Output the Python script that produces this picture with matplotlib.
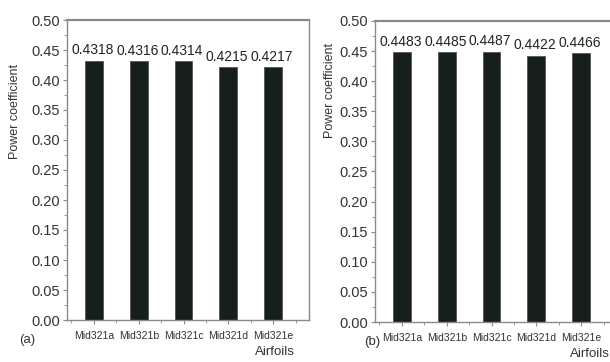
import matplotlib
matplotlib.use("Agg")
import matplotlib.pyplot as plt
from matplotlib.ticker import MultipleLocator, FormatStrFormatter

plt.rcParams['font.family'] = ['Liberation Sans', 'DejaVu Sans']

airfoils = ["Mid321a", "Mid321b", "Mid321c", "Mid321d", "Mid321e"]
cp_a = [0.4318, 0.4316, 0.4314, 0.4215, 0.4217]
cp_b = [0.4483, 0.4485, 0.4487, 0.4422, 0.4466]
value_labels_a = ["0.4318", "0.4316", "0.4314", "0.4215", "0.4217"]
value_labels_b = ["0.4483", "0.4485", "0.4487", "0.4422", "0.4466"]

W, H = 610, 362
fig = plt.figure(figsize=(W / 100, H / 100), dpi=100)
fig.patch.set_facecolor("white")

bar_color = "#161e1e"
spine_color = "#8a8a8a"
text_color = "#222222"


def px_box(x0, y_top, x1, y_bot):
    return [x0 / W, 1 - y_bot / H, (x1 - x0) / W, (y_bot - y_top) / H]


def draw_panel(ax, values, labels):
    x = list(range(1, len(values) + 1))
    ax.bar(x, values, width=0.4, color=bar_color, edgecolor="#555555", linewidth=0.6, zorder=2)
    for xi, v, lab in zip(x, values, labels):
        ax.annotate(lab, (xi, v), xytext=(-1, 2.5), textcoords="offset points",
                    ha="center", va="bottom", fontsize=10, color=text_color)
    ax.set_xlim(0.4, 5.8)
    ax.set_ylim(0, 0.5)
    ax.set_xticks(x)
    ax.set_xticklabels(airfoils, fontsize=7.5, color="#333333")
    ax.xaxis.set_minor_locator(MultipleLocator(0.5))
    ax.yaxis.set_major_locator(MultipleLocator(0.05))
    ax.yaxis.set_minor_locator(MultipleLocator(0.025))
    ax.yaxis.set_major_formatter(FormatStrFormatter("%.2f"))
    ax.tick_params(axis="y", labelsize=10.5, colors="#333333", direction="out",
                   length=3, width=0.8, color=spine_color, pad=2)
    ax.tick_params(axis="x", direction="out", length=3, width=0.8, color=spine_color, pad=5)
    ax.tick_params(which="minor", direction="out", length=2, width=0.6, color=spine_color)
    for name, sp in ax.spines.items():
        sp.set_color(spine_color)
        sp.set_linewidth(1.0)
    ax.spines["top"].set_linewidth(1.6)


ax_a = fig.add_axes(px_box(67, 20, 309, 320))
draw_panel(ax_a, cp_a, value_labels_a)
ax_b = fig.add_axes(px_box(375, 21, 617, 322))
draw_panel(ax_b, cp_b, value_labels_b)

fig.text(15 / W, 1 - 111 / H, "Power coefficient", rotation=90, ha="center", va="center",
         fontsize=9, color="#333333")
fig.text(330 / W, 1 - 90 / H, "Power coefficient", rotation=90, ha="center", va="center",
         fontsize=9, color="#333333")
fig.text(275 / W, 1 - 352 / H, "Airfoils", ha="center", va="center", fontsize=9.5, color="#333333")
fig.text(590 / W, 1 - 354 / H, "Airfoils", ha="center", va="center", fontsize=9.5, color="#333333")
fig.text(27 / W, 1 - 340 / H, "(a)", ha="center", va="center", fontsize=9.5, color="#333333")
fig.text(372 / W, 1 - 342 / H, "(b)", ha="center", va="center", fontsize=9.5, color="#333333")

fig.savefig("out.png", dpi=100)
